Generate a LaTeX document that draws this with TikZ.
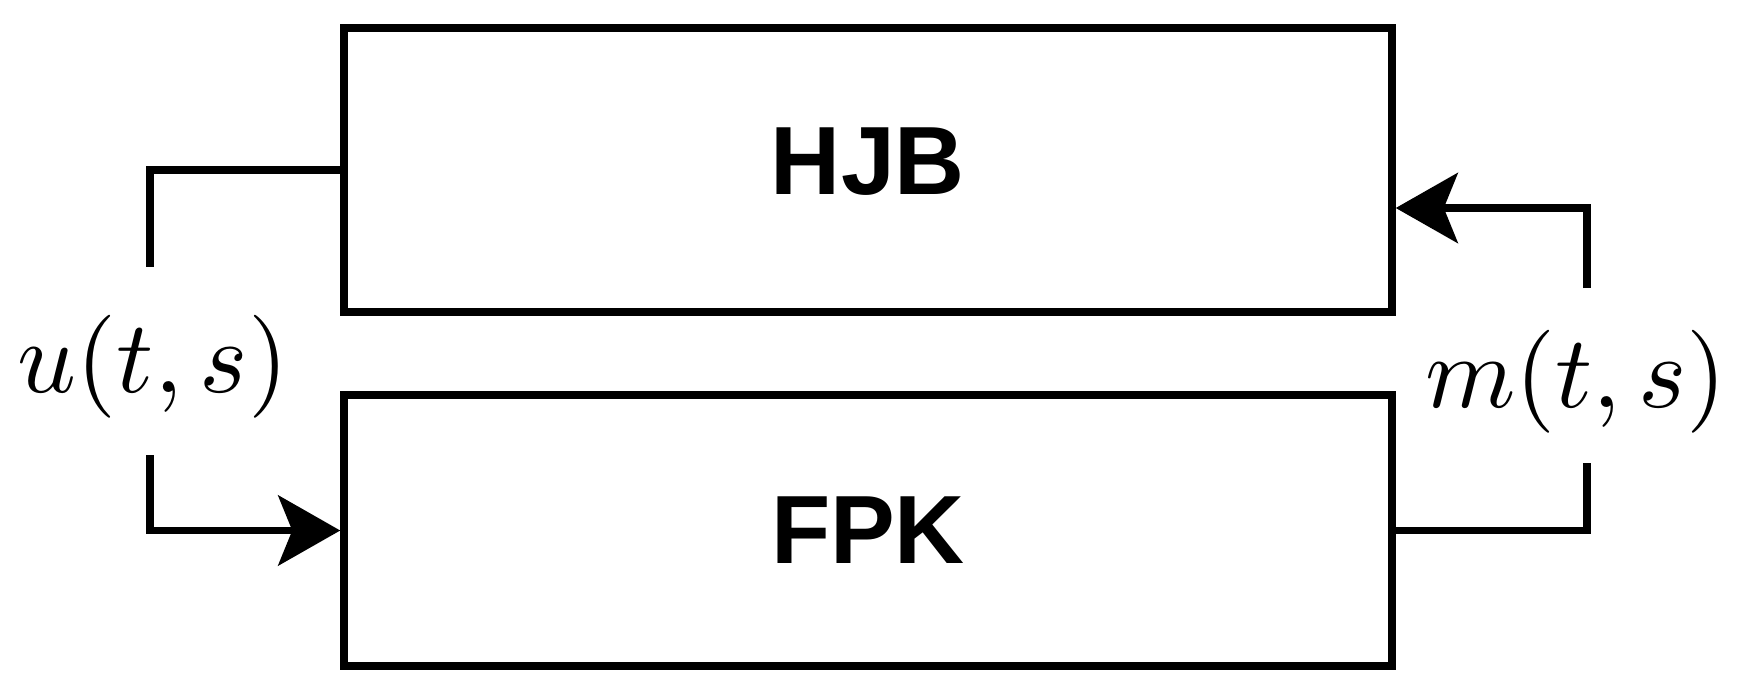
\documentclass[tikz,border=0pt]{standalone}
\usepackage{fontspec}
\newfontfamily\lsans{Liberation Sans}
\usetikzlibrary{arrows.meta}
\tikzset{
  blockbox/.style={draw, line width=7.5pt, rectangle, inner sep=0pt,
    font=\lsans\bfseries\fontsize{97}{110}\selectfont},
  conn/.style={line width=7.5pt},
  arr/.style={conn, -{Stealth[length=62pt, width=70pt, inset=14pt]}},
  mlabel/.style={anchor=base, inner sep=0pt}
}
\newcommand{\biglabel}[1]{\scalebox{10.3}{\normalsize$#1$}}
\begin{document}
\begin{tikzpicture}[x=1pt, y=-1pt]
\useasboundingbox (0,0) rectangle (1737,698);
\node[blockbox, minimum width=1048pt, minimum height=284pt, text depth=18pt] (hjb) at (868,170) {HJB};
\node[blockbox, minimum width=1048pt, minimum height=271pt] (fpk) at (868,530.5) {FPK};
\node[mlabel] (ul) at (153,392) {\biglabel{u(t,s)}};
\node[mlabel] (ml) at (1576,407) {\biglabel{m(t,s)}};
\coordinate (c1) at (150,267);
\coordinate (c2) at (150,455);
\coordinate (c3) at (1587,463);
\coordinate (c4) at (1587,288);
\draw[conn] (hjb.west) -| (c1);
\draw[arr] (c2) |- (fpk.west);
\draw[conn] (fpk.east) -| (c3);
\draw[arr] (c4) |- ([yshift=-38pt]hjb.east);
\end{tikzpicture}
\end{document}
